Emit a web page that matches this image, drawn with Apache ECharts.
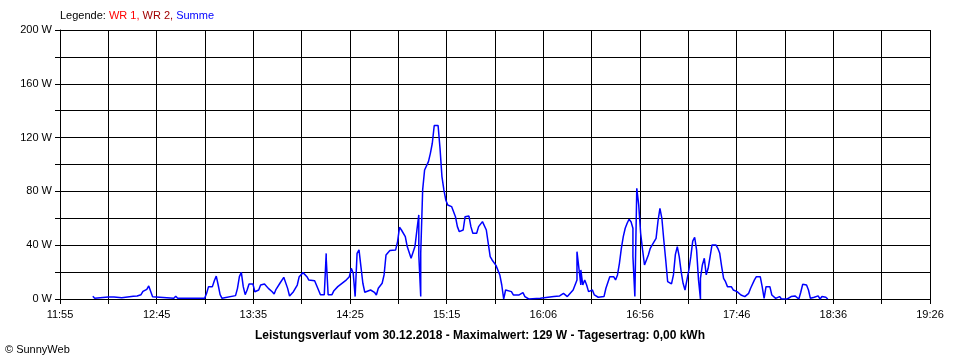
<!DOCTYPE html>
<html><head><meta charset="utf-8">
<script src="https://cdn.jsdelivr.net/npm/echarts@6/dist/echarts.min.js"></script>
<style>html,body{margin:0;padding:0;background:#fff}#c{width:960px;height:360px}</style>
</head><body><div id="c"></div>
<script>
// Zeitpunkte (HH:MM) und Leistung "Summe" (W)
const times = [
"12:12","12:13","12:20","12:23","12:27","12:33","12:35","12:37","12:38","12:40","12:41","12:42","12:43","12:44",
"12:54","12:55","12:56","13:10","13:11","13:12","13:14","13:15","13:16","13:17","13:18","13:19","13:20",
"13:26","13:27","13:28","13:29","13:30","13:31","13:32","13:33","13:35","13:36","13:38","13:39","13:41",
"13:43","13:45","13:46","13:47","13:49","13:51","13:52","13:53","13:54","13:56","13:58","13:59","14:01",
"14:03","14:04","14:07","14:09","14:10","14:12","14:13","14:13","14:14","14:16","14:17","14:19",
"14:20","14:23","14:25","14:26","14:27","14:28","14:29","14:30","14:31","14:32","14:33","14:36","14:38",
"14:39","14:40","14:42","14:43","14:44","14:46","14:49","14:50","14:51","14:52","14:54","14:55","14:57",
"14:58","14:59","15:00","15:01","15:01","15:02","15:02","15:03","15:04","15:05","15:06","15:07","15:08",
"15:09","15:11","15:12","15:13","15:14","15:15","15:16","15:18","15:20","15:21","15:22","15:24","15:25",
"15:27","15:28","15:29","15:31","15:32","15:34","15:35","15:36","15:37","15:38","15:39","15:41","15:43",
"15:44","15:45","15:46","15:49","15:50","15:53","15:55","15:56","15:58","16:04","16:11","16:14","16:16",
"16:18","16:19","16:21","16:23","16:23","16:24","16:25","16:25","16:26","16:27","16:28","16:29","16:31",
"16:32","16:34","16:37","16:38","16:40","16:42","16:43","16:44","16:45","16:46","16:47","16:48","16:49",
"16:50","16:51","16:52","16:52","16:53","16:54","16:55","16:56","16:57","16:58","16:59","17:00","17:01",
"17:02","17:03","17:04","17:05","17:06","17:07","17:08","17:09","17:10","17:12","17:13","17:14","17:15",
"17:16","17:17","17:18","17:19","17:20","17:21","17:22","17:23","17:24","17:25","17:26","17:27","17:27",
"17:28","17:29","17:30","17:31","17:32","17:33","17:34","17:35","17:36","17:37","17:38","17:39","17:40",
"17:41","17:43","17:44","17:46","17:48","17:50","17:52","17:53","17:55","17:56","17:58","17:59","18:00",
"18:01","18:02","18:03","18:04","18:06","18:08","18:09","18:12","18:14","18:16","18:18","18:19","18:20",
"18:22","18:23","18:24","18:26","18:28","18:29","18:30","18:32","18:33"
];
const summe = [
2,0.5,1.5,1.5,1,2,2.2,3.2,5.6,7.2,9.7,9.2,1.7,0.3,
0.5,2,0.5,0.5,4.2,9.2,9.2,13.6,17,10.4,3.2,0.5,1.7,
2.5,7.9,16.6,19.8,9.2,3.2,6.7,11.2,11.2,5.4,6.7,10.4,11.2,
7.9,5.4,3.7,7.2,11.7,16.1,16.1,7.9,2.2,5.4,10.4,16.6,19.6,
16.6,14.1,13.6,6.7,3.2,3.2,33.9,30.2,3.2,3.2,6.2,9.2,
10.4,13.6,16.6,22.8,19.1,1.8,34,36.5,24.1,11.7,5,6.7,5,
3,8,11.7,17.9,32.7,36,36.5,42.7,53.3,51.3,46.4,39,30.3,
30.3,39,51,62.5,32.7,1.8,34,81.1,95.9,97.2,102.1,108.3,115.8,
129,129,112,91,81.1,73.6,69.9,68.7,61.2,53.8,50.1,51.3,61.2,
61.7,53.8,48.9,48.9,53.8,57.5,58.8,51.3,41.4,31.5,29,25,17.9,
10.4,0,6.7,5.5,3,3,4.7,1.8,0,0.5,1.8,2.3,4.2,
1.8,3,6.7,14.2,35.2,34,10.4,21.6,10.4,14.2,10.4,5.5,6.7,
3,1.3,1.8,8,16.6,16.6,14.2,17.9,26.5,37.7,46.4,52.6,56.3,
59.3,57.5,52.6,31.5,1.8,82.3,70,48.9,36.5,25.3,25.3,32.7,37.7,
40.2,41.4,45.1,58,67.4,60,43.9,29,13,11.2,17.9,33,38.9,
31.5,20.4,11.7,6.7,5.5,21.6,31.5,43,45.9,36.5,14.2,0,15.4,
25.3,30.3,18,22.8,31.5,40.2,41.4,40.2,37.7,34,24.1,15.4,12.9,
9.2,9.2,6.7,5.5,3,1.8,4.2,8,14.2,16.6,16.6,9.2,0.5,
9.2,10.4,9.2,3,0.5,1.8,0,0,1.8,2.3,0,5,10.9,
10.4,6.7,0.5,1.3,2.3,0,1.8,1.3,0
];
const xTickLabels = ["11:55","12:45","13:35","14:25","15:15","16:06","16:56","17:46","18:36","19:26"];
const yTickLabels = ["0 W","40 W","80 W","120 W","160 W","200 W"];
const seriesNames = ["WR 1","WR 2","Summe"];
const axisStart = "11:55", axisEnd = "19:26", xSteps = 18;
const chartTitle = "Leistungsverlauf vom 30.12.2018 - Maximalwert: 129 W - Tagesertrag: 0,00 kWh";
const credit = "\u00A9 SunnyWeb";

function toMin(s){ const p = s.split(':').map(Number); return p[0]*60 + p[1]; }
const t0 = toMin(axisStart), step = (toMin(axisEnd) - t0) / xSteps;
const data = times.map((t, i) => [(toMin(t) - t0) / step, summe[i]]);

const FONT = "'Liberation Sans', Arial, sans-serif";
const chart = echarts.init(document.getElementById('c'), null, {renderer: 'canvas'});
chart.setOption({
  animation: false,
  backgroundColor: '#ffffff',
  textStyle: {fontFamily: FONT},
  title: [
    {left: 60, top: 10, padding: 0,
     text: '{k|Legende: }{r|' + seriesNames[0] + ', }{d|' + seriesNames[1] + ', }{b|' + seriesNames[2] + '}',
     textStyle: {fontWeight: 'normal', fontSize: 11, rich: {
       k: {color: '#000', fontSize: 11, fontWeight: 'normal', fontFamily: FONT},
       r: {color: '#ff0000', fontSize: 11, fontWeight: 'normal', fontFamily: FONT},
       d: {color: '#a00000', fontSize: 11, fontWeight: 'normal', fontFamily: FONT},
       b: {color: '#0000ff', fontSize: 11, fontWeight: 'normal', fontFamily: FONT}}}},
    {left: 'center', top: 330, padding: 0, text: chartTitle,
     textStyle: {fontSize: 12, fontWeight: 'bold', color: '#000', fontFamily: FONT}},
    {left: 5, top: 344, padding: 0, text: credit,
     textStyle: {fontSize: 11, fontWeight: 'normal', color: '#000', fontFamily: FONT}}
  ],
  grid: {left: 60, right: 30, top: 30, bottom: 61, containLabel: false},
  xAxis: {
    type: 'value', min: 0, max: xSteps, interval: 1,
    axisLine: {lineStyle: {color: '#000', width: 1}},
    axisTick: {show: true, length: 5, lineStyle: {color: '#000'}},
    splitLine: {show: true, lineStyle: {color: '#000', width: 1}},
    axisLabel: {color: '#000', fontSize: 11, margin: 10, fontFamily: FONT,
      showMinLabel: true, showMaxLabel: true,
      formatter: v => { const k = Math.round(v); return k % 2 === 0 ? xTickLabels[k/2] : ''; }}
  },
  yAxis: {
    type: 'value', min: 0, max: 200, interval: 20,
    axisLine: {show: true, lineStyle: {color: '#000', width: 1}},
    axisTick: {show: true, length: 5, lineStyle: {color: '#000'}},
    splitLine: {show: true, lineStyle: {color: '#000', width: 1}},
    axisLabel: {color: '#000', fontSize: 11, margin: 8, fontFamily: FONT,
      formatter: v => (Math.round(v) % 40 === 0 ? yTickLabels[Math.round(v)/40] : '')}
  },
  series: [{
    name: seriesNames[2], type: 'line', data: data, showSymbol: false,
    lineStyle: {color: '#0000ff', width: 1.5}, itemStyle: {color: '#0000ff'}
  }]
});
</script></body></html>
